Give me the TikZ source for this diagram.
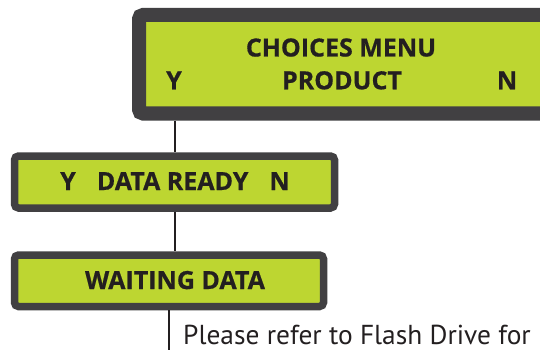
\documentclass[tikz,border=0pt]{standalone}
\usepackage{fontspec}
\setmainfont{Open Sans}[BoldFeatures={FakeBold=0.6}]
\newfontfamily\notefont{PT Sans}
\definecolor{lcdframe}{HTML}{414042}
\definecolor{lcdgreen}{HTML}{BDD631}
\definecolor{ink}{HTML}{231F20}
\begin{document}
\begin{tikzpicture}[x=1pt,y=-1pt,
  lcd/.style={draw=lcdframe, fill=lcdgreen, rounded corners=4pt, inner sep=0pt},
  lbl/.style={font=\fontsize{25}{25}\selectfont\bfseries, text=ink, inner sep=0pt, anchor=base},
  wire/.style={draw=ink, line width=2pt}]
\useasboundingbox (0,0) rectangle (540,350);
\clip (0,0) rectangle (540,350);
\node[lcd, line width=14pt, minimum width=461pt, minimum height=98.5pt] (menu) at (369.5,64.25) {};
\node[lbl] (menutitle) at (341,56.5) {CHOICES MENU};
\node[lbl] (product) at (342,89.3) {PRODUCT};
\node[lbl] (menuY) at (174,89.3) {Y};
\node[lbl] (menuN) at (507,89.3) {N};
\node[lcd, line width=7.5pt, minimum width=320pt, minimum height=52pt] (ready) at (174.5,182) {};
\node[lbl] (readytxt) at (175,190) {Y\hspace{21pt}DATA READY\hspace{21pt}N};
\node[lcd, line width=7.5pt, minimum width=309pt, minimum height=51.5pt] (wait) at (169,280.75) {};
\node[lbl] (waittxt) at (175,289) {WAITING DATA};
\coordinate (bottom) at (168,352);
\draw[wire] (ready.north |- menu.south) -- (ready.north);
\draw[wire] (ready.south) -- (ready.south |- wait.north);
\draw[wire] (wait.south) -- (wait.south |- bottom);
\node[font=\notefont\fontsize{27.4}{27.4}\selectfont, text=ink, inner sep=0pt, text depth=0pt, anchor=base west] (note) at (183,344) {Please refer to Flash Drive for};
\end{tikzpicture}
\end{document}
